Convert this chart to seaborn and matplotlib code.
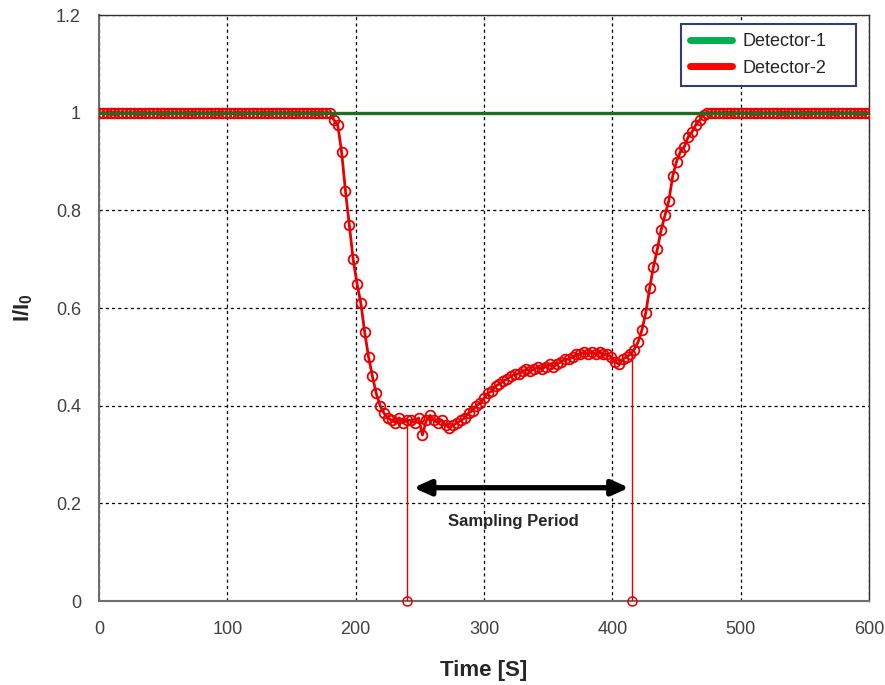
import numpy as np
import pandas as pd
import seaborn as sns
import matplotlib.pyplot as plt
from matplotlib.lines import Line2D

# Detector-2 readings, one every 3 s from t = 0
step_s = 3
flat_start = [1.0] * 61          # 0 .. 180 s
drop_and_rise = [
    0.985, 0.975, 0.92, 0.84, 0.77, 0.70, 0.65, 0.61, 0.55, 0.50,
    0.46, 0.425, 0.40, 0.385, 0.375, 0.37, 0.365, 0.375, 0.365, 0.37,
    0.37, 0.365, 0.375, 0.34, 0.37, 0.38, 0.37, 0.365, 0.37, 0.36,
    0.355, 0.36, 0.365, 0.37, 0.375, 0.385, 0.39, 0.40, 0.405, 0.415,
    0.425, 0.43, 0.44, 0.445, 0.45, 0.455, 0.46, 0.465, 0.465, 0.47,
    0.475, 0.47, 0.475, 0.48, 0.475, 0.48, 0.485, 0.48, 0.485, 0.49,
    0.495, 0.495, 0.50, 0.505, 0.505, 0.51, 0.505, 0.51, 0.505, 0.51,
    0.505, 0.505, 0.50, 0.49, 0.485, 0.495, 0.50, 0.505, 0.515, 0.53,
    0.555, 0.59, 0.64, 0.685, 0.72, 0.76, 0.79, 0.82, 0.87, 0.90,
    0.92, 0.93, 0.95, 0.96, 0.975, 0.985, 0.995,
]                                # 183 .. 471 s
flat_end = [1.0] * 43            # 474 .. 600 s
det2_value = flat_start + drop_and_rise + flat_end
det2_time = np.arange(len(det2_value)) * step_s

# two dropped samples that read zero
glitch_time = [240, 415]
glitch_value = [0.0, 0.0]

# Detector-1 stays at 1
det1_time = [0, 600]
det1_value = [1.0, 1.0]

sampling_start = 245
sampling_end = 413

df2 = pd.DataFrame({'time': det2_time, 'value': det2_value})
df1 = pd.DataFrame({'time': det1_time, 'value': det1_value})

sns.set_style('white')
plt.rcParams['font.family'] = ['Liberation Sans', 'DejaVu Sans']
plt.rcParams['mathtext.fontset'] = 'custom'
plt.rcParams['mathtext.rm'] = 'Liberation Sans:bold'
plt.rcParams['mathtext.bf'] = 'Liberation Sans:bold'

fig = plt.figure(figsize=(8.85, 6.85), dpi=100)
ax = fig.add_axes([0.1119, 0.1226, 0.8701, 0.8555])

red = '#e80000'
sns.lineplot(data=df2, x='time', y='value', ax=ax, color=red, lw=2.0,
             marker='o', markersize=7, markerfacecolor='none',
             markeredgecolor=red, markeredgewidth=1.3, zorder=3)

# glitch samples: straight drops to zero
tops = np.interp(glitch_time, det2_time, det2_value)
ax.vlines(glitch_time, glitch_value, tops, color=red, lw=1.0, zorder=3)
ax.plot(glitch_time, glitch_value, 'o', ms=6.5, mfc='none', mec=red,
        mew=1.1, clip_on=False, zorder=4)

sns.lineplot(data=df1, x='time', y='value', ax=ax, color='#1f6e1f',
             lw=2.4, zorder=4)

ax.annotate('', xy=(sampling_end, 0.232), xytext=(sampling_start, 0.232),
            arrowprops=dict(arrowstyle='<|-|>,head_length=1.0,head_width=0.45',
                            lw=3.8, color='black', shrinkA=0, shrinkB=0))
ax.text((sampling_start + sampling_end) / 2 - 6, 0.162, 'Sampling Period',
        ha='center', va='center', fontsize=12, fontweight='bold')

ax.set_xlim(0, 600)
ax.set_ylim(0, 1.2)
ax.set_xticks(range(0, 601, 100))
ax.set_yticks([0, 0.2, 0.4, 0.6, 0.8, 1.0, 1.2])
ax.set_yticklabels(['0', '0.2', '0.4', '0.6', '0.8', '1', '1.2'])
ax.tick_params(direction='in', length=7, width=1, colors='#333333',
               labelcolor='#404040', labelsize=13, pad=13)
ax.tick_params(axis='x', pad=14.5)
ax.grid(True, color='black', lw=0.9, linestyle=(0, (2.5, 2.5)))

for side in ['left', 'bottom']:
    ax.spines[side].set_color('#6e6e6e')
    ax.spines[side].set_linewidth(1.5)
for side in ['top', 'right']:
    ax.spines[side].set_color('#303030')
    ax.spines[side].set_linewidth(1.0)

ax.set_xlabel('Time [S]', fontsize=16, fontweight='bold', labelpad=16)
ax.set_ylabel(r'I/I$_{\mathbf{0}}$', fontsize=16, fontweight='bold', labelpad=15)

handles = [Line2D([], [], color='#00b050', lw=5),
           Line2D([], [], color='#ff0000', lw=5)]
leg = ax.legend(handles, ['Detector-1', 'Detector-2'], loc='upper right',
                bbox_to_anchor=(0.756, 0.0, 0.227, 0.985), mode='expand',
                borderaxespad=0, fontsize=13, frameon=True, fancybox=False,
                framealpha=1, handlelength=2.3, handletextpad=0.6,
                labelspacing=0.55, borderpad=0.5)
leg.get_frame().set_edgecolor('#2f3f6f')
leg.get_frame().set_linewidth(1.5)

fig.savefig('out.png', dpi=100)
